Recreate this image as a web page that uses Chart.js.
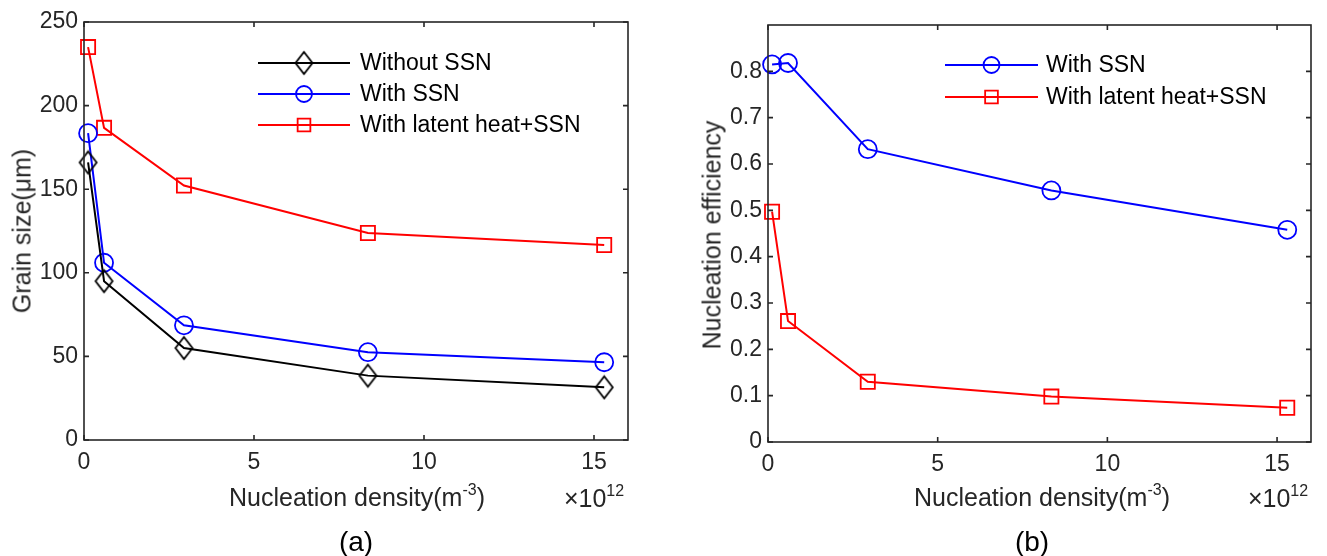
<!DOCTYPE html>
<html>
<head>
<meta charset="utf-8">
<script src="https://cdn.jsdelivr.net/npm/chart.js@4.4.1/dist/chart.umd.min.js"></script>
<style>
  body { margin: 0; background: #fff; }
  #wrap { position: relative; width: 1327px; height: 556px; overflow: hidden; font-family: "Liberation Sans", Arial, sans-serif; }
  canvas { position: absolute; top: 0; }
  .txt { position: absolute; white-space: nowrap; color: #262626; font-size: 25px; transform: translate(-50%, -50%); }
  .rot { transform: translate(-50%, -50%) rotate(-90deg); }
  .sup { font-size: 16px; position: relative; top: -11px; }
  .cap { font-size: 28px; color: #000; }
</style>
</head>
<body>
<div id="wrap">
  <canvas id="chartA" width="664" height="556" style="left:0"></canvas>
  <canvas id="chartB" width="663" height="556" style="left:664px"></canvas>

  <div class="txt rot" style="left:22px;top:231px">Grain size(μm)</div>
  <div class="txt" style="left:357px;top:497px">Nucleation density(m<span class="sup">-3</span>)</div>
  <div class="txt" style="left:594px;top:498px">×10<span class="sup">12</span></div>
  <div class="txt cap" style="left:356px;top:542px">(a)</div>

  <div class="txt rot" style="left:712px;top:235px">Nucleation efficiency</div>
  <div class="txt" style="left:1042px;top:497px">Nucleation density(m<span class="sup">-3</span>)</div>
  <div class="txt" style="left:1278px;top:498px">×10<span class="sup">12</span></div>
  <div class="txt cap" style="left:1032px;top:542px">(b)</div>
</div>

<script>
// nucleation density, in units of 10^12 m^-3
const densityE12 = [0.12, 0.59, 2.94, 8.35, 15.3];

// (a) grain size, um
const grainWithout = [166, 95, 55, 38.5, 31.5];
const grainWithSSN = [183.5, 106, 68.6, 52.5, 46.5];
const grainLatent = [235, 186.7, 152.2, 123.8, 116.6];

// (b) nucleation efficiency
const effWithSSN = [0.815, 0.818, 0.632, 0.543, 0.458];
const effLatent = [0.497, 0.261, 0.130, 0.098, 0.074];

const xTicks = [0, 5, 10, 15];
const grainTicks = [0, 50, 100, 150, 200, 250];
const effTicks = [0, 0.1, 0.2, 0.3, 0.4, 0.5, 0.6, 0.7, 0.8];

const axisColor = '#262626';
const fontFamily = '"Liberation Sans", Arial, sans-serif';

Chart.defaults.font.family = fontFamily;
Chart.defaults.color = axisColor;

let toPoints = (ys) => ys.map((y, i) => ({ x: densityE12[i], y: y }));

let makeDiamond = (w, h, color) => {
    let c = document.createElement('canvas');
    c.width = w + 4;
    c.height = h + 4;
    let g = c.getContext('2d');
    g.strokeStyle = color;
    g.lineWidth = 1.8;
    g.beginPath();
    g.moveTo(c.width / 2, 2);
    g.lineTo(c.width - 2, c.height / 2);
    g.lineTo(c.width / 2, c.height - 2);
    g.lineTo(2, c.height / 2);
    g.closePath();
    g.stroke();
    return c;
};

let diamond = makeDiamond(17, 22, '#000000');

let series = (label, ys, color, style, radius) => ({
    label: label,
    data: toPoints(ys),
    borderColor: color,
    borderWidth: 2,
    pointStyle: style,
    pointRadius: radius,
    pointHoverRadius: radius,
    pointBorderColor: color,
    pointBorderWidth: 1.8,
    pointBackgroundColor: 'rgba(0,0,0,0)',
    tension: 0,
    clip: false,
    legendRadius: radius - 1
});

// box + inward ticks on all four sides, like the original figure
let frame = {
    id: 'frame',
    afterDatasetsDraw(chart) {
        let ctx = chart.ctx;
        let a = chart.chartArea;
        let xs = chart.scales.x;
        let ys = chart.scales.y;
        let len = 5;
        ctx.save();
        ctx.strokeStyle = axisColor;
        ctx.lineWidth = 1.6;
        ctx.strokeRect(a.left, a.top, a.right - a.left, a.bottom - a.top);
        ctx.beginPath();
        xs.ticks.forEach(t => {
            let px = xs.getPixelForValue(t.value);
            ctx.moveTo(px, a.bottom);
            ctx.lineTo(px, a.bottom - len);
            ctx.moveTo(px, a.top);
            ctx.lineTo(px, a.top + len);
        });
        ys.ticks.forEach(t => {
            let py = ys.getPixelForValue(t.value);
            ctx.moveTo(a.left, py);
            ctx.lineTo(a.left + len, py);
            ctx.moveTo(a.right, py);
            ctx.lineTo(a.right - len, py);
        });
        ctx.stroke();
        ctx.restore();
    }
};

// matlab style legend: line with marker in the middle
let lineLegend = {
    id: 'lineLegend',
    afterDraw(chart, args, opts) {
        let ctx = chart.ctx;
        ctx.save();
        chart.data.datasets.forEach((ds, i) => {
            let y = opts.y + i * opts.rowH;
            ctx.strokeStyle = ds.borderColor;
            ctx.fillStyle = 'rgba(0,0,0,0)';
            ctx.lineWidth = 2;
            ctx.beginPath();
            ctx.moveTo(opts.x1, y);
            ctx.lineTo(opts.x2, y);
            ctx.stroke();
            ctx.lineWidth = 1.8;
            Chart.helpers.drawPoint(ctx, {
                pointStyle: ds.pointStyle,
                radius: ds.legendRadius,
                borderWidth: 1.8,
                rotation: 0
            }, (opts.x1 + opts.x2) / 2, y);
            ctx.fillStyle = '#000000';
            ctx.font = '23px ' + fontFamily;
            ctx.textAlign = 'left';
            ctx.textBaseline = 'middle';
            ctx.fillText(ds.label, opts.tx, y + 1);
        });
        ctx.restore();
    }
};

let makeOptions = (yMin, yMax, yTickList, yWidth, xHeight, pad, legendPos) => ({
    responsive: false,
    animation: false,
    devicePixelRatio: 1,
    layout: { padding: pad },
    plugins: {
        legend: { display: false },
        tooltip: { enabled: false },
        lineLegend: legendPos
    },
    scales: {
        x: {
            type: 'linear',
            min: 0,
            max: 16,
            grid: { display: false, drawTicks: false },
            border: { display: false },
            afterBuildTicks: s => { s.ticks = xTicks.map(v => ({ value: v })); },
            afterFit: s => { s.height = xHeight; },
            ticks: { font: { size: 23 }, padding: 9, color: axisColor, callback: v => String(v) }
        },
        y: {
            type: 'linear',
            min: yMin,
            max: yMax,
            grid: { display: false, drawTicks: false },
            border: { display: false },
            afterBuildTicks: s => { s.ticks = yTickList.map(v => ({ value: v })); },
            afterFit: s => { s.width = yWidth; },
            ticks: { font: { size: 23 }, padding: 6, color: axisColor, callback: v => String(v) }
        }
    }
});

let chartA = new Chart(document.getElementById('chartA'), {
    type: 'line',
    data: {
        datasets: [
            series('Without SSN', grainWithout, '#000000', diamond, 10),
            series('With SSN', grainWithSSN, '#0000ff', 'circle', 9),
            series('With latent heat+SSN', grainLatent, '#ff0000', 'rect', 10)
        ]
    },
    options: makeOptions(0, 250, grainTicks, 84, 116,
        { top: 22, right: 36, left: 0, bottom: 0 },
        { x1: 258, x2: 350, tx: 360, y: 63, rowH: 31 }),
    plugins: [frame, lineLegend]
});

let chartB = new Chart(document.getElementById('chartB'), {
    type: 'line',
    data: {
        datasets: [
            series('With SSN', effWithSSN, '#0000ff', 'circle', 9),
            series('With latent heat+SSN', effLatent, '#ff0000', 'rect', 10)
        ]
    },
    options: makeOptions(0, 0.9, effTicks, 104, 114,
        { top: 25, right: 16, left: 0, bottom: 0 },
        { x1: 281, x2: 374, tx: 382, y: 65, rowH: 32 }),
    plugins: [frame, lineLegend]
});
</script>
</body>
</html>
